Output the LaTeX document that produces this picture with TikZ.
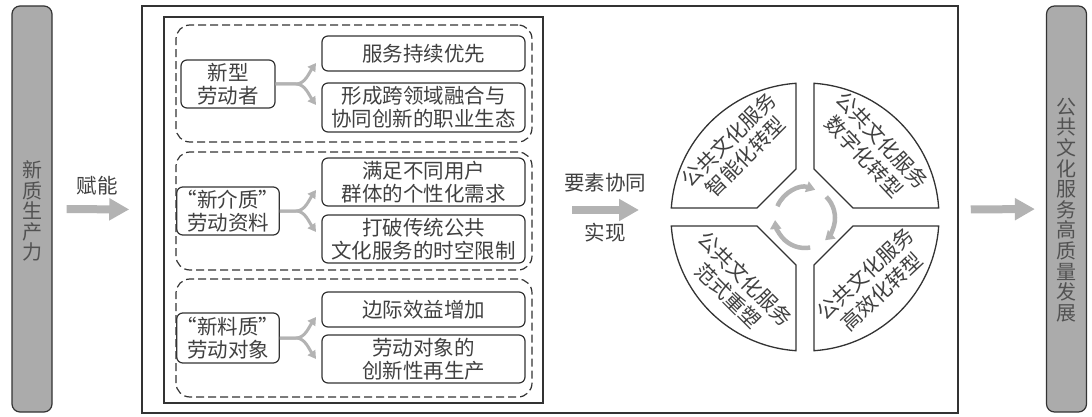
\documentclass[tikz,border=0pt]{standalone}
\usepackage{fontspec}
\newfontfamily\cjk{Noto Sans CJK SC}
\usetikzlibrary{arrows.meta}
\definecolor{ink}{HTML}{333333}
\definecolor{txt}{HTML}{404040}
\definecolor{arr}{HTML}{B3B3B3}
\definecolor{barfill}{HTML}{ABABAB}
\begin{document}
\begin{tikzpicture}[x=1pt,y=-1pt,
  every node/.style={font=\cjk\fontsize{20.5}{23}\selectfont, text=txt, inner sep=0pt, align=center},
  bar/.style={draw=ink, fill=barfill, line width=1.2pt, rounded corners=8pt, minimum width=40pt, minimum height=406pt},
  vtext/.style={font=\cjk\fontsize{20}{20.6}\selectfont, text=black!68},
  grp/.style={draw=ink, dashed, dash pattern=on 8pt off 4pt, line width=1.2pt, rounded corners=14pt, minimum width=356pt},
  lbox/.style={draw=ink, line width=1.2pt, rounded corners=6pt, minimum width=94pt, minimum height=48pt},
  rbox/.style={draw=ink, line width=1.2pt, rounded corners=6pt, minimum width=203pt},
  fork/.style={draw=arr, line width=3pt, -{Triangle[width=9pt,length=8pt]}},
  bigarrow/.style={draw=arr, line width=8pt, -{Triangle[width=21pt,length=20pt]}},
  quad/.style={draw=ink, line width=1.3pt, fill=white, line join=miter},
  cyc/.style={draw=arr, line width=4.5pt, -{Triangle[width=11pt,length=9pt]}},
  qtext/.style={font=\cjk\fontsize{20.5}{24}\selectfont}
]
\useasboundingbox (0,0) rectangle (1092,417);

% side bars
\node[bar] (lbar) at (32,209) {};
\node[vtext] (lbartxt) at (32,211) {新\\质\\生\\产\\力};
\node[bar] (rbar) at (1066.5,209) {};
\node[vtext] (rbartxt) at (1066.5,210) {公\\共\\文\\化\\服\\务\\高\\质\\量\\发\\展};

% frames
\node[draw=ink, line width=1.5pt, minimum width=816pt, minimum height=407pt] (outer) at (550,209.5) {};
\node[draw=ink, line width=2.3pt, minimum width=379pt, minimum height=386pt] (inner) at (353.5,210) {};

% arrow in
\draw[bigarrow, shorten <=14pt, shorten >=12pt] (lbar.east) -- (outer.west);
\node (fn) at (97,186) {赋能};

% groups
\node[grp, minimum height=117pt] (g1) at (354,83.5) {};
\node[grp, minimum height=118pt] (g2) at (354,211) {};
\node[grp, minimum height=118pt] (g3) at (354,338) {};

% left boxes
\node[lbox] (l1) at (228,84) {新型\\劳动者};
\node[lbox] (l2) at (228,211) {“新介质”\\劳动资料};
\node[lbox, minimum height=50pt] (l3) at (228,338) {“新料质”\\劳动对象};

% right boxes
\node[rbox, minimum height=35pt] (r1) at (423.5,53.5) {服务持续优先};
\node[rbox, minimum height=49pt] (r2) at (423.5,107.5) {形成跨领域融合与\\协同创新的职业生态};
\node[rbox, minimum height=48pt] (r3) at (423.5,182) {满足不同用户\\群体的个性化需求};
\node[rbox, minimum height=48pt] (r4) at (423.5,239) {打破传统公共\\文化服务的时空限制};
\node[rbox, minimum height=35pt] (r5) at (423.5,309.5) {边际效益增加};
\node[rbox, minimum height=48pt] (r6) at (423.5,359) {劳动对象的\\创新性再生产};

% forks
\foreach \n/\y in {1/84, 2/211, 3/338} {
  \coordinate (s\n) at (296,\y);
  \coordinate (u\n) at (316,\y-21);
  \coordinate (d\n) at (316,\y+21);
  \draw[fork] (l\n.east) -- (s\n) .. controls +(9,0) and +(-7,10) .. (u\n);
  \draw[fork] (l\n.east) -- (s\n) .. controls +(9,0) and +(-7,-10) .. (d\n);
}

% middle arrow
\coordinate (m1) at (572,210);
\coordinate (m2) at (639,210);
\draw[bigarrow] (m1) -- (m2);
\node (ysxt) at (605,183) {要素协同};
\node (sx) at (605,233) {实现};

% quadrants
\draw[quad] (796,169) -- (796,83.3) arc[start angle=-93.85, end angle=-176.15, radius=134] -- (757,208) -- cycle;
\draw[quad] (814,169) -- (814,83.3) arc[start angle=-86.15, end angle=-3.85, radius=134] -- (853,208) -- cycle;
\draw[quad] (796,265) -- (796,350.7) arc[start angle=93.85, end angle=176.15, radius=134] -- (757,226) -- cycle;
\draw[quad] (814,265) -- (814,350.7) arc[start angle=86.15, end angle=3.85, radius=134] -- (853,226) -- cycle;

\node[qtext, rotate=45] (q1) at (737,148) {公共文化服务\\智能化转型};
\node[qtext, rotate=-47] (q2) at (873,148) {公共文化服务\\数字化转型};
\node[qtext, rotate=-45] (q3) at (737,287) {公共文化服务\\范式重塑};
\node[qtext, rotate=43] (q4) at (873,283) {公共文化服务\\高效化转型};

% cycle arrows
\draw[cyc] (805,218) ++(-157:30) arc[start angle=-157, end angle=-70, radius=30];
\draw[cyc] (805,218) ++(-45:30) arc[start angle=-45, end angle=48, radius=30];
\draw[cyc] (805,218) ++(80:30) arc[start angle=80, end angle=176, radius=30];

% arrow out
\draw[bigarrow, shorten <=12pt, shorten >=11pt] (outer.east) -- (rbar.west);
\end{tikzpicture}
\end{document}
